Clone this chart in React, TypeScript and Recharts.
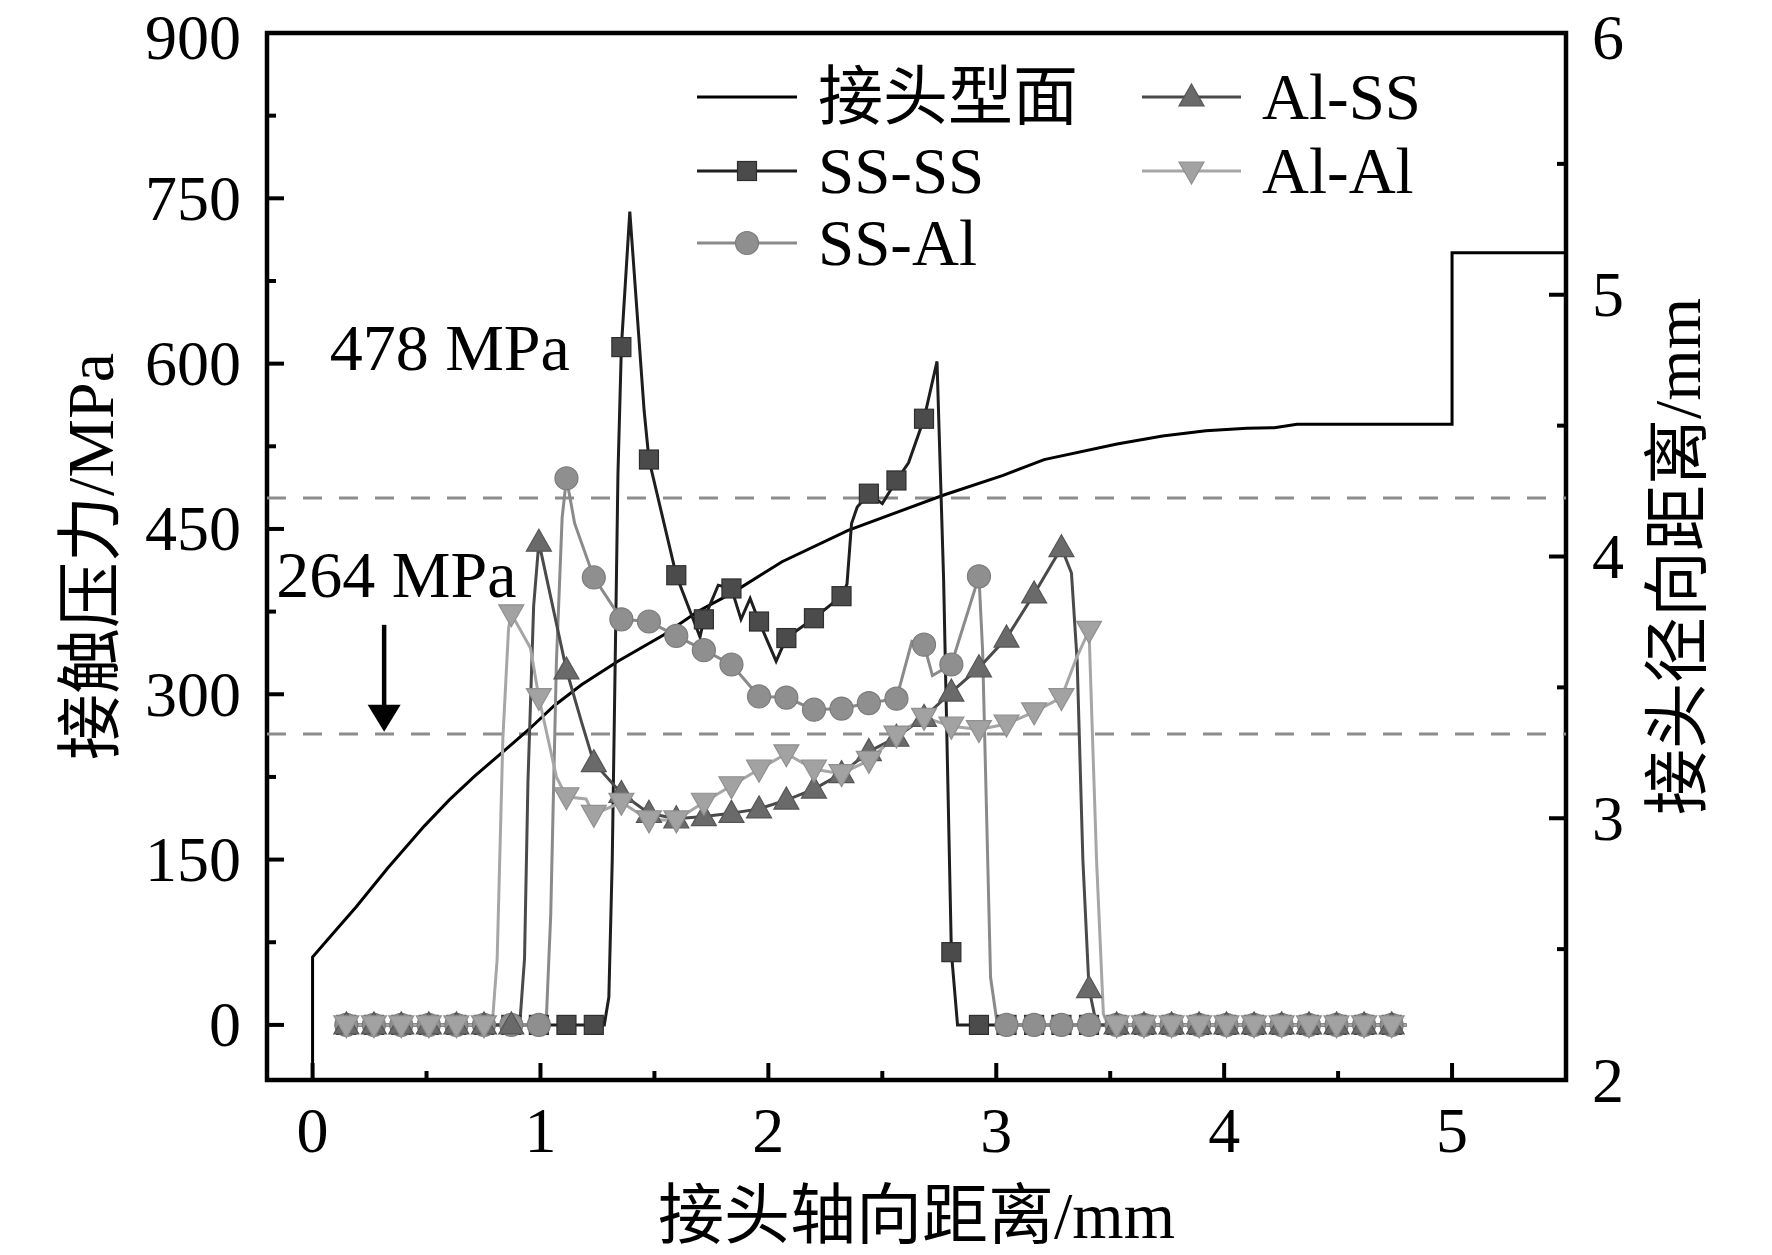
import React from 'react';
import {
  ComposedChart,
  Line,
  XAxis,
  YAxis,
  ReferenceLine,
  ReferenceArea,
  ReferenceDot,
} from 'recharts';

// ---------- data ----------
// common x positions of the plotted symbols (mm)
const markerX = [
  0.148, 0.269, 0.389, 0.51, 0.631, 0.752, 0.872, 0.993, 1.114, 1.234,
  1.355, 1.476, 1.596, 1.717, 1.838, 1.959, 2.079, 2.2, 2.321, 2.441,
  2.562, 2.683, 2.803, 2.924, 3.045, 3.166, 3.286, 3.407, 3.528, 3.648,
  3.769, 3.89, 4.01, 4.131, 4.252, 4.372, 4.493, 4.614, 4.735,
];

// contact pressure (MPa) at the symbol positions
const ssSsY = [
  0, 0, 0, 0, 0, 0, 0, 0, 0, 0,
  615, 513, 408, 368, 396, 366, 351, 369, 389, 482,
  494, 550, 66, 0, 0, 0, 0, 0, 0, 0,
  0, 0, 0, 0, 0, 0, 0, 0, 0,
];
const ssAlY = [
  0, 0, 0, 0, 0, 0, 0, 0, 496, 406,
  368, 366, 353, 340, 327, 298, 297, 286, 287, 292,
  296, 345, 327, 407, 0, 0, 0, 0, 0, 0,
  0, 0, 0, 0, 0, 0, 0, 0, 0,
];
const alSsY = [
  0, 0, 0, 0, 0, 0, 0, 438, 322, 238,
  210, 192, 187, 189, 192, 196, 204, 214, 228, 248,
  261, 279, 302, 324, 351, 391, 433, 33, 0, 0,
  0, 0, 0, 0, 0, 0, 0, 0, 0,
];
const alAlY = [
  0, 0, 0, 0, 0, 0, 373, 297, 207, 191,
  202, 186, 186, 202, 217, 232, 246, 232, 228, 240,
  263, 279, 271, 268, 273, 284, 297, 358, 0, 0,
  0, 0, 0, 0, 0, 0, 0, 0, 0,
];

// additional line vertices between symbols [x (mm), pressure (MPa)]
const ssSsExtra: [number, number][] = [
  [1.28, 0], [1.3, 25], [1.315, 150], [1.34, 500], [1.392, 738], [1.455, 557],
  [1.7, 352], [1.78, 399], [1.88, 368], [1.92, 387], [2.034, 330],
  [2.345, 400], [2.365, 455], [2.39, 470], [2.5, 473], [2.615, 510],
  [2.74, 602], [2.769, 404], [2.83, 0], [4.8, 0],
];
const ssAlExtra: [number, number][] = [
  [1.025, 2], [1.045, 100], [1.07, 330], [1.095, 460], [1.15, 455],
  [2.63, 348], [2.72, 317], [2.94, 340], [2.975, 43], [3.005, 0], [4.8, 0],
];
const alSsExtra: [number, number][] = [
  [0.91, 3], [0.93, 60], [0.945, 220], [0.97, 380], [1.18, 275],
  [3.33, 410], [3.355, 330], [3.38, 150], [3.44, 0], [4.8, 0],
];
const alAlExtra: [number, number][] = [
  [0.79, 5], [0.81, 60], [0.835, 260], [0.86, 360], [0.956, 342], [1.07, 225],
  [1.2, 205], [3.35, 332], [3.44, 150], [3.47, 10], [3.49, 0], [4.8, 0],
];

// joint profile [x (mm), radial distance (mm)]
const profilePts: [number, number][] = [
  [0, 2.0], [0, 2.47], [0.1, 2.57], [0.19, 2.66], [0.33, 2.81], [0.49, 2.97],
  [0.6, 3.07], [0.71, 3.16], [0.83, 3.25], [0.95, 3.34], [1.06, 3.43],
  [1.18, 3.51], [1.34, 3.6], [1.54, 3.7], [1.69, 3.79], [1.84, 3.86],
  [2.06, 3.98], [2.35, 4.1], [2.77, 4.235], [3.03, 4.31], [3.21, 4.37],
  [3.53, 4.43], [3.73, 4.46], [3.92, 4.48], [4.1, 4.49], [4.22, 4.492],
  [4.32, 4.505], [5.0, 4.505], [5.0, 5.16], [5.5, 5.16],
];

const refLevels = [478, 264];
const xTicks = [0, 0.5, 1, 1.5, 2, 2.5, 3, 3.5, 4, 4.5, 5];
const yLeftTicks = [0, 75, 150, 225, 300, 375, 450, 525, 600, 675, 750, 825, 900];
const yRightTicks = [2, 2.5, 3, 3.5, 4, 4.5, 5, 5.5, 6];

const annotations: { x: number; y: number; text: string }[] = [
  { x: 0.075, y: 615, text: '478 MPa' },
  { x: -0.159, y: 409, text: '264 MPa' },
];
const arrowX = 0.314;
const arrowTop = 363;
const arrowBase = 290;
const arrowTip = 266;

const legendItems = [
  { label: '接头型面', kind: 'none', col: 0, row: 0 },
  { label: 'SS-SS', kind: 'square', col: 0, row: 1 },
  { label: 'SS-Al', kind: 'circle', col: 0, row: 2 },
  { label: 'Al-SS', kind: 'up', col: 1, row: 0 },
  { label: 'Al-Al', kind: 'down', col: 1, row: 1 },
];

// ---------- styles ----------
const FONT = "'Liberation Serif', 'Times New Roman', 'Noto Sans CJK SC', serif";
const W = 1764;
const H = 1247;

const STYLE: Record<string, { line: string; fill: string; edge: string }> = {
  square: { line: '#1e1e1e', fill: '#4b4b4b', edge: '#2e2e2e' },
  circle: { line: '#8a8a8a', fill: '#8f8f8f', edge: '#7c7c7c' },
  up: { line: '#4a4a4a', fill: '#6a6a6a', edge: '#555555' },
  down: { line: '#a6a6a6', fill: '#a2a2a2', edge: '#909090' },
  none: { line: '#000000', fill: 'none', edge: 'none' },
};

function buildLine(ys: number[], extra: [number, number][]) {
  const pts = markerX.map((x, i) => ({ x, y: ys[i], m: 1 }));
  extra.forEach(([x, y]) => pts.push({ x, y, m: 0 }));
  pts.sort((a, b) => a.x - b.x);
  return pts;
}

const ssSsData = buildLine(ssSsY, ssSsExtra);
const ssAlData = buildLine(ssAlY, ssAlExtra);
const alSsData = buildLine(alSsY, alSsExtra);
const alAlData = buildLine(alAlY, alAlExtra);
const profileData = profilePts.map(([x, y]) => ({ x, y }));

function Marker({ kind, cx, cy }: { kind: string; cx: number; cy: number }) {
  const s = STYLE[kind];
  if (kind === 'square') {
    return <rect x={cx - 9.5} y={cy - 9.5} width={19} height={19} fill={s.fill} stroke={s.edge} strokeWidth={1.2} />;
  }
  if (kind === 'circle') {
    return <circle cx={cx} cy={cy} r={11.5} fill={s.fill} stroke={s.edge} strokeWidth={1.2} />;
  }
  if (kind === 'up') {
    return (
      <path d={`M${cx},${cy - 13} L${cx + 12.5},${cy + 9} L${cx - 12.5},${cy + 9} Z`} fill={s.fill} stroke={s.edge} strokeWidth={1.2} />
    );
  }
  if (kind === 'down') {
    return (
      <path d={`M${cx},${cy + 13} L${cx + 12.5},${cy - 9} L${cx - 12.5},${cy - 9} Z`} fill={s.fill} stroke={s.edge} strokeWidth={1.2} />
    );
  }
  return null;
}

const makeDot = (kind: string) => (props: any) => {
  const { cx, cy, payload, index } = props;
  if (!payload || !payload.m || cx == null || cy == null) return <g key={`n${kind}${index}`} />;
  return (
    <g key={`m${kind}${index}`}>
      <Marker kind={kind} cx={cx} cy={cy} />
    </g>
  );
};

// keep the topmost labels' text box inside the page
const topShift = (y: number) => (y < 40 ? 4 : 0);

const leftTick = (props: any) => {
  const { x, y, payload } = props;
  const v = payload.value;
  const major = v % 150 === 0;
  return (
    <g>
      <line x1={x} x2={x + (major ? 17 : 9)} y1={y} y2={y} stroke="#000" strokeWidth={4} />
      {major && (
        <text x={x - 26} y={y + topShift(y)} textAnchor="end" dominantBaseline="central" fontSize={64} fontFamily={FONT} fill="#000">
          {v}
        </text>
      )}
    </g>
  );
};

const rightTick = (props: any) => {
  const { x, y, payload } = props;
  const v = payload.value;
  const major = Number.isInteger(v);
  return (
    <g>
      <line x1={x} x2={x - (major ? 17 : 9)} y1={y} y2={y} stroke="#000" strokeWidth={4} />
      {major && (
        <text x={x + 26} y={y + topShift(y)} textAnchor="start" dominantBaseline="central" fontSize={64} fontFamily={FONT} fill="#000">
          {v}
        </text>
      )}
    </g>
  );
};

const bottomTick = (props: any) => {
  const { x, y, payload } = props;
  const v = payload.value;
  const major = Number.isInteger(v);
  return (
    <g>
      <line x1={x} x2={x} y1={y} y2={y - (major ? 17 : 9)} stroke="#000" strokeWidth={4} />
      {major && (
        <text x={x} y={y + 50} textAnchor="middle" dominantBaseline="central" fontSize={64} fontFamily={FONT} fill="#000">
          {v}
        </text>
      )}
    </g>
  );
};

const xTitle = (props: any) => {
  const vb = props.viewBox;
  return (
    <text x={vb.x + vb.width / 2} y={vb.y + 135} textAnchor="middle" dominantBaseline="central" fontSize={66} fontFamily={FONT} fill="#000">
      接头轴向距离/mm
    </text>
  );
};

const yLeftTitle = (props: any) => {
  const vb = props.viewBox;
  const cx = 82;
  const cy = vb.y + vb.height / 2;
  return (
    <text x={cx} y={cy} transform={`rotate(-90 ${cx} ${cy})`} textAnchor="middle" dominantBaseline="central" fontSize={66} fontFamily={FONT} fill="#000">
      接触压力/MPa
    </text>
  );
};

const yRightTitle = (props: any) => {
  const vb = props.viewBox;
  const cx = vb.x + 111;
  const cy = vb.y + vb.height / 2;
  return (
    <text x={cx} y={cy} transform={`rotate(-90 ${cx} ${cy})`} textAnchor="middle" dominantBaseline="central" fontSize={66} fontFamily={FONT} fill="#000">
      接头径向距离/mm
    </text>
  );
};

function Legend() {
  const colLine = [
    [689, 789],
    [1134, 1233],
  ];
  const colText = [810, 1254];
  const rowY = [89, 163, 235];
  return (
    <svg width={W} height={H} style={{ position: 'absolute', left: 0, top: 0, pointerEvents: 'none' }}>
      {legendItems.map((it) => {
        const [x1, x2] = colLine[it.col];
        const y = rowY[it.row];
        const s = STYLE[it.kind];
        return (
          <g key={it.label}>
            <line x1={x1} x2={x2} y1={y} y2={y} stroke={s.line} strokeWidth={3} />
            {it.kind !== 'none' && <Marker kind={it.kind} cx={(x1 + x2) / 2} cy={y} />}
            <text x={colText[it.col]} y={y} dominantBaseline="central" fontSize={65} fontFamily={FONT} fill="#000">
              {it.label}
            </text>
          </g>
        );
      })}
    </svg>
  );
}

export default function App() {
  return (
    <div style={{ position: 'relative', width: W, height: H, background: '#fff' }}>
      <ComposedChart width={W} height={H} margin={{ top: 25, right: 0, bottom: 0, left: 0 }}>
        <XAxis
          type="number"
          dataKey="x"
          domain={[-0.2, 5.5]}
          ticks={xTicks}
          interval={0}
          allowDataOverflow
          axisLine={false}
          tickLine={false}
          tickSize={0}
          tickMargin={0}
          height={175}
          tick={bottomTick}
          label={{ content: xTitle }}
        />
        <YAxis
          yAxisId="left"
          type="number"
          domain={[-50, 900]}
          ticks={yLeftTicks}
          interval={0}
          allowDataOverflow
          axisLine={false}
          tickLine={false}
          tickSize={0}
          tickMargin={0}
          width={259}
          tick={leftTick}
          label={{ content: yLeftTitle }}
        />
        <YAxis
          yAxisId="right"
          orientation="right"
          type="number"
          domain={[2, 6]}
          ticks={yRightTicks}
          interval={0}
          allowDataOverflow
          axisLine={false}
          tickLine={false}
          tickSize={0}
          tickMargin={0}
          width={206}
          tick={rightTick}
          label={{ content: yRightTitle }}
        />
        {refLevels.map((v) => (
          <ReferenceLine key={v} yAxisId="left" y={v} stroke="#8c8c8c" strokeWidth={3} strokeDasharray="19 17" />
        ))}
        <Line
          yAxisId="right"
          data={profileData}
          dataKey="y"
          type="linear"
          stroke="#000"
          strokeWidth={3}
          dot={false}
          activeDot={false}
          isAnimationActive={false}
        />
        <Line yAxisId="left" data={ssSsData} dataKey="y" type="linear" stroke={STYLE.square.line} strokeWidth={3} dot={makeDot('square')} activeDot={false} isAnimationActive={false} />
        <Line yAxisId="left" data={ssAlData} dataKey="y" type="linear" stroke={STYLE.circle.line} strokeWidth={3} dot={makeDot('circle')} activeDot={false} isAnimationActive={false} />
        <Line yAxisId="left" data={alSsData} dataKey="y" type="linear" stroke={STYLE.up.line} strokeWidth={3} dot={makeDot('up')} activeDot={false} isAnimationActive={false} />
        <Line yAxisId="left" data={alAlData} dataKey="y" type="linear" stroke={STYLE.down.line} strokeWidth={3} dot={makeDot('down')} activeDot={false} isAnimationActive={false} />
        <ReferenceLine
          yAxisId="left"
          segment={[
            { x: arrowX, y: arrowTop },
            { x: arrowX, y: arrowBase },
          ]}
          stroke="#000"
          strokeWidth={4.5}
        />
        <ReferenceDot
          yAxisId="left"
          x={arrowX}
          y={arrowTip}
          r={1}
          shape={(p: any) => (
            <path d={`M${p.cx},${p.cy} L${p.cx + 16.5},${p.cy - 27} L${p.cx - 16.5},${p.cy - 27} Z`} fill="#000" />
          )}
        />
        {annotations.map((a) => (
          <ReferenceDot
            key={a.text}
            yAxisId="left"
            x={a.x}
            y={a.y}
            r={1}
            shape={(p: any) => (
              <text x={p.cx} y={p.cy} dominantBaseline="central" fontSize={66} fontFamily={FONT} fill="#000">
                {a.text}
              </text>
            )}
          />
        ))}
        <ReferenceArea
          yAxisId="left"
          x1={-0.2}
          x2={5.5}
          y1={-50}
          y2={900}
          fill="none"
          fillOpacity={0}
          stroke="#000"
          strokeWidth={4.5}
          ifOverflow="visible"
        />
      </ComposedChart>
      <Legend />
    </div>
  );
}
